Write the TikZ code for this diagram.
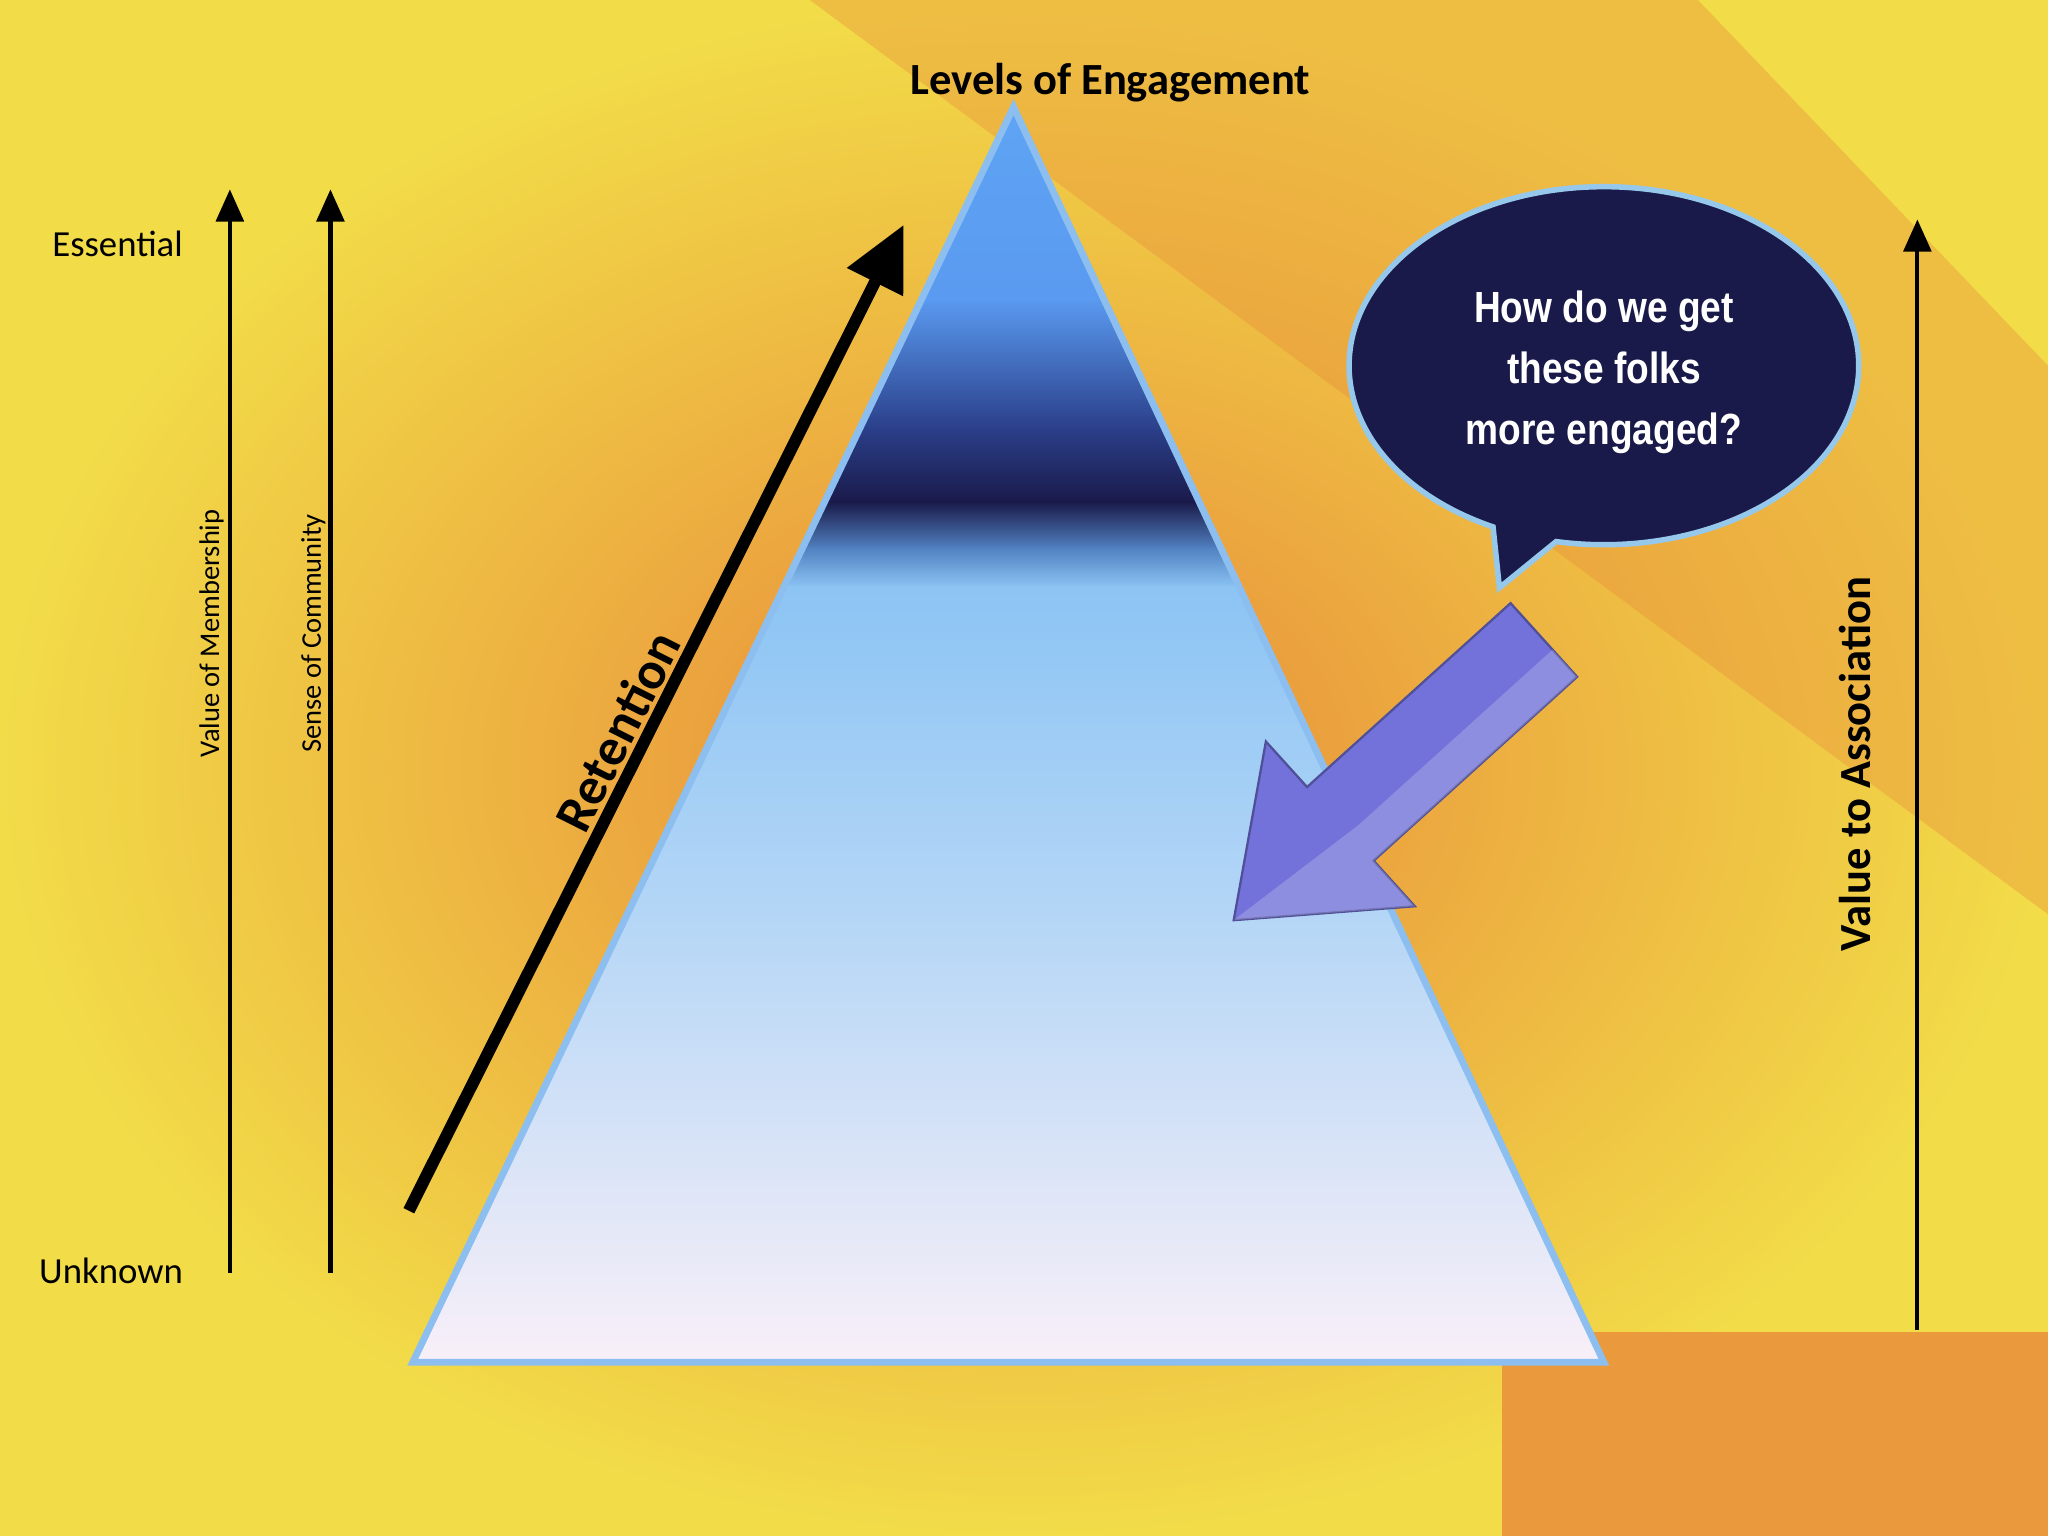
\documentclass[tikz,border=0pt]{standalone}
\usepackage{fontspec}
\setmainfont{Carlito}
\newfontfamily\narrowfont{Liberation Sans}
\usetikzlibrary{arrows.meta,shapes.callouts}
\definecolor{bgyel}{HTML}{F2DC48}
\definecolor{bgor}{HTML}{E8883A}
\definecolor{navy}{HTML}{1A1A4A}
\definecolor{purp}{HTML}{7272DA}
\tikzset{
  axisarrow/.style={line width=0.9pt,-{Triangle[length=7pt,width=6pt]}},
  lbl/.style={font=\fontsize{8}{9}\selectfont},
  vlbl/.style={font=\fontsize{6.2}{7}\selectfont,rotate=90},
  band/.style={draw=none}
}
\begin{document}
\begin{tikzpicture}[x=0.01cm,y=-0.01cm]
\useasboundingbox (0,0) rectangle (1568,1176);
% background
\shade[inner color=bgor,middle color=bgor!80!bgyel,outer color=bgyel] (0,0) rectangle (1568,1176);
\fill[bgor,opacity=0.35] (620,0) -- (1300,0) -- (1568,280) -- (1568,700) -- cycle;
\fill[bgor!80!bgyel] (1150,1020) rectangle (1568,1176);
% triangle
\coordinate (apex) at (776,82);
\coordinate (bl) at (316,1043);
\coordinate (br) at (1228,1043);
\begin{scope}
\clip (apex) -- (br) -- (bl) -- cycle;
\shade[band,top color={rgb,255:red,95;green,165;blue,245},bottom color={rgb,255:red,90;green,154;blue,240}] (300,70) rectangle (1250,230);
\shade[band,top color={rgb,255:red,90;green,154;blue,240},bottom color={rgb,255:red,42;green,62;blue,136}] (300,229) rectangle (1250,330);
\shade[band,top color={rgb,255:red,42;green,62;blue,136},bottom color=navy] (300,329) rectangle (1250,385);
\shade[band,top color=navy,bottom color={rgb,255:red,80;green,128;blue,192}] (300,384) rectangle (1250,420);
\shade[band,top color={rgb,255:red,80;green,128;blue,192},bottom color={rgb,255:red,140;green,196;blue,244}] (300,419) rectangle (1250,450);
\shade[band,top color={rgb,255:red,140;green,196;blue,244},bottom color={rgb,255:red,180;green,214;blue,246}] (300,449) rectangle (1250,700);
\shade[band,top color={rgb,255:red,180;green,214;blue,246},bottom color={rgb,255:red,250;green,240;blue,248}] (300,699) rectangle (1250,1050);
\end{scope}
\draw[line width=1.5pt,draw={rgb,255:red,140;green,190;blue,240}] (apex) -- (br) -- (bl) -- cycle;
\node[font=\bfseries\fontsize{9.7}{11}\selectfont] (title) at (850,63) {Levels of Engagement};
% left axes
\coordinate (a1s) at (176,975); \coordinate (a1e) at (176,145);
\coordinate (a2s) at (253,975); \coordinate (a2e) at (253,145);
\draw[axisarrow] (a1s) -- (a1e);
\draw[axisarrow] (a2s) -- (a2e);
\node[lbl] (ess) at (90,187) {Essential};
\node[lbl] (unk) at (85,973) {Unknown};
\node[vlbl] (vom) at (162,485) {Value of Membership};
\node[vlbl] (soc) at (240,485) {Sense of Community};
% retention
\coordinate (rs) at (313,927); \coordinate (re) at (692,172);
\draw[line width=2.6pt,-{Triangle[length=14pt,width=13pt]}] (rs) -- (re);
\node[font=\bfseries\fontsize{11.5}{13}\selectfont,rotate=63.3,inner sep=0pt] (ret) at (473,560) {Retention};
% right axis
\coordinate (r1s) at (1468,1018); \coordinate (r1e) at (1468,168);
\draw[axisarrow] (r1s) -- (r1e);
\node[font=\bfseries\fontsize{9.7}{11}\selectfont,rotate=90] (vta) at (1420,585) {Value to Association};
% bubble
\node[ellipse callout,fill=navy,draw={rgb,255:red,150;green,200;blue,235},line width=1.2pt,
  minimum width=3.9cm,minimum height=2.74cm,callout absolute pointer={(1148,450)}] (bub) at (1228,280) {};
\node[text=white,font=\narrowfont\bfseries\fontsize{9.5}{13.3}\selectfont,align=center,xscale=0.85] (btxt) at (1228,285) {How do we get\\these folks\\more engaged?};
% purple arrow
\begin{scope}[shift={(1182,490)},rotate=222.1]
\fill[purp,draw=purp!70!black,line width=0.5pt] (0,-38) -- (210,-38) -- (210,-85) -- (320,0) -- (210,85) -- (210,38) -- (0,38) -- cycle;
\fill[white,opacity=0.2] (0,-38) -- (210,-38) -- (210,-85) -- (320,0) -- (200,-10) -- (0,-10) -- cycle;
\end{scope}
\end{tikzpicture}
\end{document}
